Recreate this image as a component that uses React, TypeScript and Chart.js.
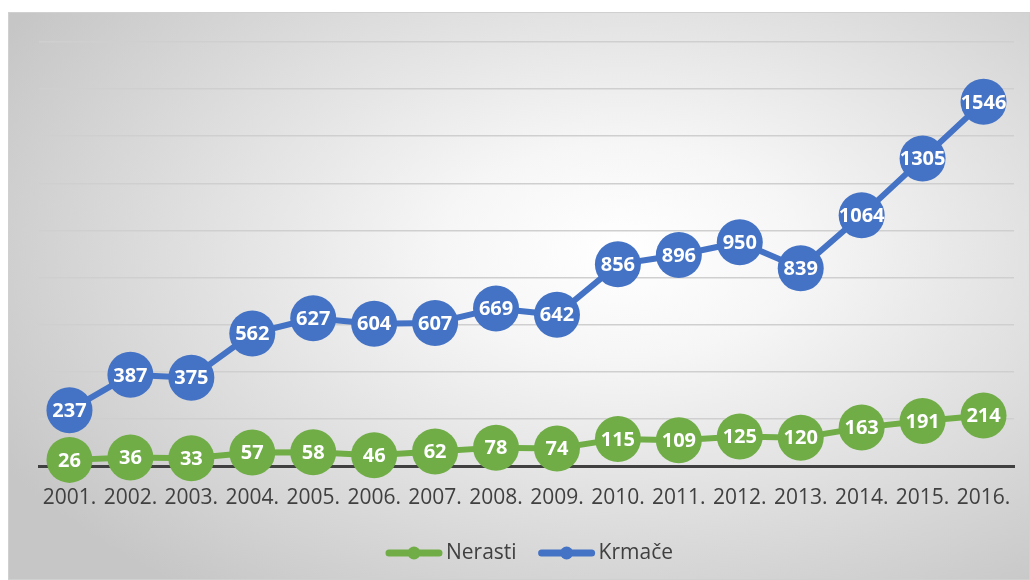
import React, { useEffect, useRef } from "react";
import { Chart, registerables } from "chart.js";

Chart.register(...registerables);

const categories = ["2001.", "2002.", "2003.", "2004.", "2005.", "2006.", "2007.", "2008.", "2009.", "2010.", "2011.", "2012.", "2013.", "2014.", "2015.", "2016."];
const nerasti = [26, 36, 33, 57, 58, 46, 62, 78, 74, 115, 109, 125, 120, 163, 191, 214];
const krmace = [237, 387, 375, 562, 627, 604, 607, 669, 642, 856, 896, 950, 839, 1064, 1305, 1546];
const seriesNames = ["Nerasti", "Krmače"];
const seriesColors = ["#70ad47", "#4472c4"];
const yMax = 1800;
const yStep = 200;

const FONT = "'Open Sans', 'DejaVu Sans', sans-serif";

const dataLabelPlugin = {
  id: "dataLabels",
  afterDatasetsDraw(chart: any) {
    const ctx = chart.ctx;
    ctx.save();
    ctx.font = `bold 20px ${FONT}`;
    ctx.fillStyle = "#ffffff";
    ctx.textAlign = "center";
    ctx.textBaseline = "middle";
    chart.data.datasets.forEach((ds: any, i: number) => {
      const meta = chart.getDatasetMeta(i);
      meta.data.forEach((pt: any, j: number) => {
        ctx.fillText(String(ds.data[j]), pt.x, pt.y + 1);
      });
    });
    ctx.restore();
  },
};

const legendPlugin = {
  id: "customLegend",
  afterDraw(chart: any) {
    const ctx = chart.ctx;
    ctx.save();
    ctx.font = `21px ${FONT}`;
    const lineLen = 56;
    const gapText = 4;
    const gapItem = 22;
    const widths = seriesNames.map((n) => lineLen + gapText + ctx.measureText(n).width);
    const total = widths.reduce((a, b) => a + b, 0) + gapItem * (seriesNames.length - 1);
    const cx = (chart.chartArea.left + chart.chartArea.right) / 2 + 3;
    const cy = chart.height - 27;
    let x = cx - total / 2;
    seriesNames.forEach((name, i) => {
      ctx.strokeStyle = seriesColors[i];
      ctx.lineWidth = 7;
      ctx.lineCap = "round";
      ctx.beginPath();
      ctx.moveTo(x + 3, cy);
      ctx.lineTo(x + lineLen - 3, cy);
      ctx.stroke();
      ctx.fillStyle = seriesColors[i];
      ctx.beginPath();
      ctx.arc(x + lineLen / 2, cy, 6.5, 0, Math.PI * 2);
      ctx.fill();
      ctx.fillStyle = "#404040";
      ctx.textAlign = "left";
      ctx.textBaseline = "middle";
      ctx.fillText(name, x + lineLen + gapText, cy);
      x += widths[i] + gapItem;
    });
    ctx.restore();
  },
};

export default function App() {
  const canvasRef = useRef<HTMLCanvasElement | null>(null);

  useEffect(() => {
    document.body.style.overflow = "hidden";
    const canvas = canvasRef.current;
    if (!canvas) return;
    const chart = new Chart(canvas, {
      type: "line",
      data: {
        labels: categories,
        datasets: [
          {
            label: seriesNames[0],
            data: nerasti,
            borderColor: seriesColors[0],
            backgroundColor: seriesColors[0],
            borderWidth: 6,
            pointRadius: 23,
            pointHoverRadius: 23,
            pointBorderWidth: 0,
            tension: 0,
            clip: false as any,
          },
          {
            label: seriesNames[1],
            data: krmace,
            borderColor: seriesColors[1],
            backgroundColor: seriesColors[1],
            borderWidth: 6,
            pointRadius: 23,
            pointHoverRadius: 23,
            pointBorderWidth: 0,
            tension: 0,
            clip: false as any,
          },
        ],
      },
      options: {
        animation: false,
        responsive: true,
        maintainAspectRatio: false,
        layout: { autoPadding: false, padding: { left: 31, right: 16, top: 30, bottom: 54 } },
        plugins: {
          legend: { display: false },
          tooltip: { enabled: false },
        },
        scales: {
          x: {
            offset: true,
            grid: { display: false, drawTicks: true, tickLength: 19 },
            border: { display: true, color: "#404040", width: 3 },
            ticks: {
              color: "#404040",
              font: { family: FONT, size: 21 },
              padding: 0,
              maxRotation: 0,
              autoSkip: false,
            },
            afterFit: (s: any) => {
              s.height = 60;
            },
          },
          y: {
            min: 0,
            max: yMax,
            ticks: { display: false, stepSize: yStep },
            border: { display: false },
            grid: {
              drawTicks: false,
              lineWidth: 1.5,
              color: (c: any) => (c.tick && c.tick.value === 0 ? "rgba(0,0,0,0)" : "#cfcfcf"),
            },
            afterFit: (s: any) => {
              s.width = 0;
            },
          },
        },
      },
      plugins: [dataLabelPlugin, legendPlugin],
    });
    return () => chart.destroy();
  }, []);

  return (
    <div
      style={{
        position: "absolute",
        left: 8,
        top: 12,
        width: 1022,
        height: 568,
        background: "radial-gradient(ellipse 70% 75% at 60% 42%, #ffffff 0%, #f6f6f6 25%, #c6c6c6 100%)",
        boxShadow: "inset 0 0 0 1px #d0d0d0",
      }}
    >
      <canvas ref={canvasRef} />
    </div>
  );
}
